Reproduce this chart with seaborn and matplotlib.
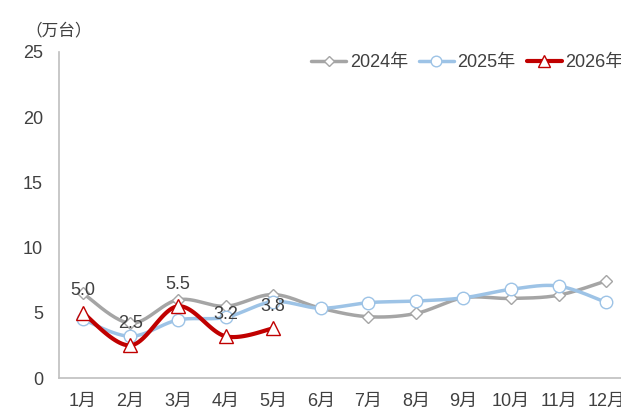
import numpy as np
import pandas as pd
import matplotlib
matplotlib.use("Agg")
import matplotlib.pyplot as plt
from matplotlib.lines import Line2D
import seaborn as sns

months = ["1月", "2月", "3月", "4月", "5月", "6月", "7月", "8月", "9月", "10月", "11月", "12月"]
series_names = ["2024年", "2025年", "2026年"]
v2024 = [6.5, 4.2, 6.0, 5.5, 6.4, 5.35, 4.7, 4.95, 6.15, 6.1, 6.35, 7.45]
v2025 = [4.5, 3.2, 4.45, 4.65, 5.85, 5.35, 5.78, 5.9, 6.15, 6.8, 7.05, 5.8]
v2026 = [5.0, 2.5, 5.5, 3.2, 3.8]
labels2026 = ["5.0", "2.5", "5.5", "3.2", "3.8"]
yticks = [0, 5, 10, 15, 20, 25]

colors = {"2024年": "#A5A5A5", "2025年": "#9DC3E6", "2026年": "#C00000"}
widths = {"2024年": 2.5, "2025年": 2.5, "2026年": 3.0}
markers = {"2024年": "D", "2025年": "o", "2026年": "^"}
msizes = {"2024年": 6.0, "2025年": 9.0, "2026年": 9.5}
mecs = {"2024年": "#A5A5A5", "2025年": "#9DC3E6", "2026年": "#C00000"}

sns.set_theme(style="white")
plt.rcParams["font.family"] = ["Liberation Sans", "Noto Sans CJK SC", "DejaVu Sans"]
text_color = "#404040"
FS = 13


def smooth(vals, n=24):
    P = np.column_stack([np.arange(len(vals), dtype=float), np.asarray(vals, float)])
    N = len(P)
    out = []
    for i in range(N - 1):
        p0 = P[i - 1] if i > 0 else P[i]
        p1 = P[i]
        p2 = P[i + 1]
        p3 = P[i + 2] if i + 2 < N else P[i + 1]
        c1 = p1 + (p2 - p0) / 6.0
        c2 = p2 - (p3 - p1) / 6.0
        t = np.linspace(0, 1, n, endpoint=(i == N - 2))[:, None]
        seg = ((1 - t) ** 3) * p1 + 3 * ((1 - t) ** 2) * t * c1 + 3 * (1 - t) * t ** 2 * c2 + t ** 3 * p2
        out.append(seg)
    return np.vstack(out)


fig = plt.figure(figsize=(6.21, 4.19), dpi=100)
ax = fig.add_axes([59 / 621, (419 - 378) / 419, (630 - 59) / 621, (378 - 52) / 419])

data = {"2024年": v2024, "2025年": v2025, "2026年": v2026}
rows = []
for s in series_names:
    sm = smooth(data[s])
    for k, (xx, yy) in enumerate(sm):
        rows.append({"series": s, "order": k, "x": xx, "y": yy})
df = pd.DataFrame(rows)

for z, s in enumerate(series_names):
    sub = df[df.series == s]
    sns.lineplot(data=sub, x="x", y="y", color=colors[s], lw=widths[s], estimator=None,
                 sort=False, ax=ax, legend=False, zorder=2 + z * 2)
    ax.plot(np.arange(len(data[s])), data[s], linestyle="none", marker=markers[s],
            markersize=msizes[s], markerfacecolor="white", markeredgecolor=mecs[s],
            markeredgewidth=1.0, zorder=3 + z * 2, clip_on=False)

for i, (v, lab) in enumerate(zip(v2026, labels2026)):
    ax.annotate(lab, (i, v), xytext=(0, 16), textcoords="offset points", ha="center",
                va="center", fontsize=FS, color=text_color, zorder=10)

ax.set_xlim(-0.5, 11.5)
ax.set_ylim(0, 25)
ax.set_yticks(yticks)
ax.set_yticklabels([str(t) for t in yticks], fontsize=FS, color=text_color)
ax.set_xticks(np.arange(12))
ax.set_xticklabels(months, fontsize=FS, color=text_color)
ax.set_xticks(np.arange(12) - 0.5, minor=True)
ax.tick_params(axis="x", which="major", length=0, pad=11)
ax.tick_params(axis="x", which="minor", direction="in", length=4, color="#BFBFBF", width=1)
ax.tick_params(axis="y", direction="in", length=4, color="#BFBFBF", width=1, pad=11.5)
ax.set_xlabel("")
ax.set_ylabel("")
for sp in ["top", "right"]:
    ax.spines[sp].set_visible(False)
for sp in ["left", "bottom"]:
    ax.spines[sp].set_color("#BFBFBF")
    ax.spines[sp].set_linewidth(1.2)
ax.grid(False)

fig.text(25 / 621, 1 - 30 / 419, "（万台）", fontsize=12, color=text_color, va="center", ha="left")

handles = [Line2D([0], [0], color=colors[s], lw=widths[s], marker=markers[s], markersize=msizes[s] * 0.85,
                  markerfacecolor="white", markeredgecolor=mecs[s]) for s in series_names]
fig.legend(handles, series_names, loc="center left", bbox_to_anchor=(311 / 621, 1 - 63 / 419),
           ncol=3, frameon=False, fontsize=FS, handlelength=1.95, handletextpad=0.2,
           columnspacing=0.6, borderpad=0, borderaxespad=0, labelcolor=text_color)

fig.savefig("out.png", dpi=100)
